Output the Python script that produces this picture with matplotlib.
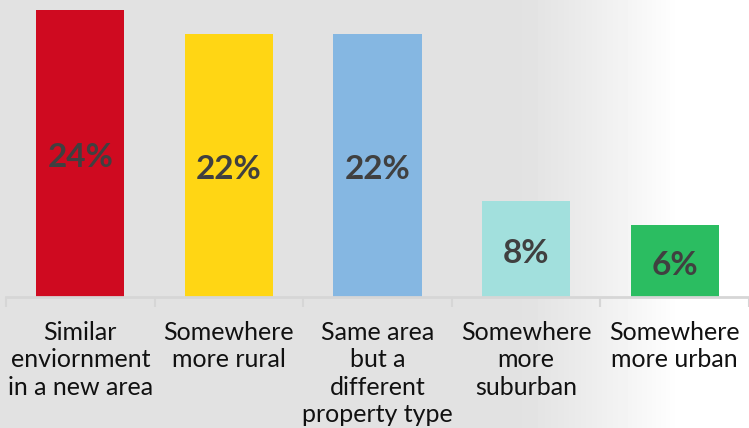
import numpy as np
import matplotlib.pyplot as plt

plt.rcParams['font.family'] = ['Lato', 'DejaVu Sans']

categories = ['Similar\nenviornment\nin a new area', 'Somewhere\nmore rural',
              'Same area\nbut a\ndifferent\nproperty type', 'Somewhere\nmore\nsuburban',
              'Somewhere\nmore urban']
values = [24, 22, 22, 8, 6]
colors = ['#cf0a20', '#ffd614', '#85b7e2', '#a2e0dd', '#2bbd61']

W, H = 749, 428
fig = plt.figure(figsize=(W / 100, H / 100), dpi=100)

# grey backdrop fading out to white on the right
bg = fig.add_axes([0, 0, 1, 1], zorder=-1)
xs = np.linspace(0, 1, W)
shade = np.clip((xs * W - 520) / 160, 0, 1)
shade = shade ** 1.2
grey = 0.886 + (1 - 0.886) * shade
bg.imshow(np.tile(grey, (2, 1)), cmap='gray', vmin=0, vmax=1, aspect='auto',
          extent=[0, 1, 0, 1])
bg.axis('off')

step = 149.75
ax = fig.add_axes([6 / W, 131 / H, 743 / W, 297 / H])
ax.patch.set_alpha(0)
x = np.arange(len(values))
bars = ax.bar(x, values, width=89 / step, color=colors)
ax.bar_label(bars, labels=[f'{v}%' for v in values], label_type='center',
             fontsize=24, fontweight='bold', color='#404040', padding=-3)

ax.set_xlim(-0.5, -0.5 + 743 / step)
ax.set_ylim(0, 24.83)
for s in ['top', 'right', 'left']:
    ax.spines[s].set_visible(False)
ax.spines['bottom'].set_color('#d6d6d6')
ax.spines['bottom'].set_linewidth(2)
ax.set_yticks([])
ax.set_xticks(x)
ax.set_xticklabels(categories, fontsize=18, color='#111111', linespacing=1.24)
ax.tick_params(axis='x', which='major', length=0, pad=17)
ax.set_xticks(np.arange(-0.5, 5, 1.0), minor=True)
ax.tick_params(axis='x', which='minor', length=7, width=1.5, color='#d6d6d6')

fig.savefig('out.png', dpi=100)
